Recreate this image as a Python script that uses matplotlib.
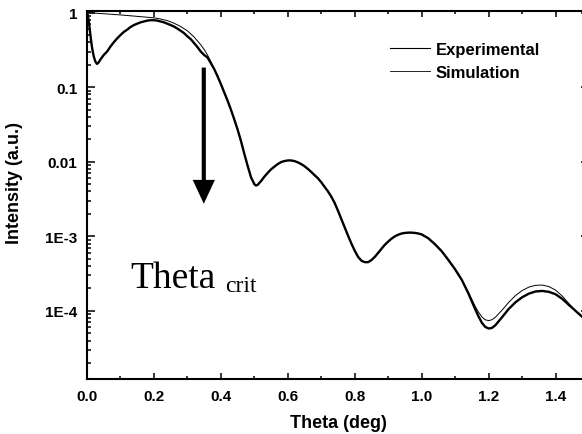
import matplotlib
matplotlib.use("Agg")
import matplotlib.pyplot as plt
from matplotlib.lines import Line2D
from matplotlib.ticker import FixedLocator, FixedFormatter, LogLocator, NullFormatter

# low-angle part of the simulation (thin line)
sim_head_theta = [0.00, 0.05, 0.10, 0.15, 0.20, 0.22, 0.24, 0.26, 0.28, 0.30,
                  0.32, 0.34, 0.35, 0.36, 0.37]
sim_head_int = [1.0, 0.965, 0.93, 0.89, 0.85, 0.82, 0.78, 0.72, 0.65, 0.57,
                0.47, 0.37, 0.32, 0.27, 0.22]

# low-angle part of the measurement (thick line)
exp_head_theta = [0.000, 0.003, 0.006, 0.009, 0.012, 0.015, 0.020, 0.025, 0.030,
                  0.035, 0.040, 0.05, 0.06, 0.07, 0.08, 0.09, 0.10, 0.11, 0.12,
                  0.13, 0.14, 0.15, 0.16, 0.17, 0.18, 0.19, 0.20, 0.21, 0.22,
                  0.23, 0.24, 0.25, 0.26, 0.27, 0.28, 0.29, 0.30, 0.31, 0.32,
                  0.33, 0.34, 0.35, 0.36, 0.37]
exp_head_int = [1.0, 0.9, 0.72, 0.55, 0.43, 0.34, 0.26, 0.22, 0.205,
                0.215, 0.235, 0.27, 0.30, 0.35, 0.40, 0.45, 0.50, 0.55, 0.59,
                0.64, 0.68, 0.71, 0.74, 0.76, 0.78, 0.79, 0.79, 0.78, 0.76,
                0.74, 0.71, 0.68, 0.65, 0.61, 0.57, 0.53, 0.48, 0.44, 0.39,
                0.345, 0.30, 0.27, 0.25, 0.21]

# region where both curves coincide
mid_theta = [0.38, 0.39, 0.40, 0.41, 0.42, 0.43, 0.44, 0.45, 0.46, 0.47, 0.48,
             0.49, 0.50, 0.505, 0.51, 0.52, 0.53, 0.54, 0.55, 0.56, 0.57, 0.58,
             0.59, 0.60, 0.61, 0.62, 0.63, 0.64, 0.65, 0.66, 0.67, 0.68, 0.69,
             0.70, 0.71, 0.72, 0.73, 0.74, 0.75, 0.76, 0.77, 0.78, 0.79, 0.80,
             0.81, 0.82, 0.83, 0.84, 0.85, 0.86, 0.87, 0.88, 0.89, 0.90, 0.91,
             0.92, 0.93, 0.94, 0.95, 0.96, 0.97, 0.98, 0.99, 1.00, 1.02, 1.04,
             1.06, 1.08, 1.10, 1.12]
mid_int = [0.175, 0.14, 0.11, 0.085, 0.066, 0.05, 0.037, 0.027, 0.019, 0.0128,
           0.0088, 0.0062, 0.0050, 0.0048, 0.0049, 0.0055, 0.0063, 0.0071, 0.0079,
           0.0086, 0.0093, 0.0099, 0.0102, 0.0104, 0.0104, 0.0102, 0.0098, 0.0093,
           0.0087, 0.0080, 0.0073, 0.0066, 0.0060, 0.0053, 0.0046, 0.0040, 0.0034,
           0.0028, 0.0022, 0.0017, 0.00132, 0.00102, 0.00080, 0.00064, 0.00053,
           0.00047, 0.00045, 0.00045, 0.00048, 0.00053, 0.00060, 0.00068, 0.00077,
           0.00085, 0.00093, 0.00100, 0.00105, 0.00109, 0.00111, 0.00112, 0.00112,
           0.00111, 0.00109, 0.00106, 0.00094, 0.00078, 0.00063, 0.00048, 0.00036,
           0.00026]

# high-angle tails
sim_tail_theta = [1.14, 1.16, 1.17, 1.18, 1.19, 1.20, 1.21, 1.22, 1.24, 1.26, 1.28,
                  1.30, 1.32, 1.34, 1.36, 1.38, 1.40, 1.42, 1.44, 1.46, 1.48, 1.50]
sim_tail_int = [0.000175, 0.000115, 0.000096, 0.000083, 0.000076, 0.000074,
                0.000076, 0.000082, 0.000102, 0.000130, 0.000160, 0.000187,
                0.000208, 0.000220, 0.000222, 0.000212, 0.000190, 0.000158,
                0.000125, 0.000100, 0.000082, 0.000068]
exp_tail_theta = sim_tail_theta
exp_tail_int = [0.000170, 0.000105, 0.000084, 0.000069, 0.000061, 0.000058,
                0.000059, 0.000064, 0.000082, 0.000106, 0.000130, 0.000152,
                0.000170, 0.000182, 0.000185, 0.000180, 0.000167, 0.000145,
                0.000120, 0.000100, 0.000083, 0.000068]

sim_theta = sim_head_theta + mid_theta + sim_tail_theta
sim_int = sim_head_int + mid_int + sim_tail_int
exp_theta = exp_head_theta + mid_theta + exp_tail_theta
exp_int = exp_head_int + mid_int + exp_tail_int

ytick_vals = [1, 0.1, 0.01, 1e-3, 1e-4]
ytick_labels = ['1', '0.1', '0.01', '1E-3', '1E-4']
xtick_vals = [0.0, 0.2, 0.4, 0.6, 0.8, 1.0, 1.2, 1.4]

plt.rcParams['font.family'] = ['Liberation Sans', 'DejaVu Sans']
plt.rcParams['font.weight'] = 'bold'

fig = plt.figure(figsize=(5.82, 4.35), dpi=100)
# right spine sits just outside the picture, as in the cropped original
ax = fig.add_axes([87/582, 1 - 380/435, (589 - 87)/582, (380 - 12)/435])

ax.plot(exp_theta, exp_int, color='black', lw=1.7)
ax.plot(sim_theta, sim_int, color='black', lw=0.7)

ax.set_yscale('log')
ax.set_xlim(0, 1.5)
ax.set_ylim(1.22e-5, 1.05)

ax.xaxis.set_major_locator(FixedLocator(xtick_vals))
ax.xaxis.set_minor_locator(FixedLocator([0.1, 0.3, 0.5, 0.7, 0.9, 1.1, 1.3, 1.5]))
ax.set_xticklabels(['%.1f' % v for v in xtick_vals])
ax.yaxis.set_major_locator(FixedLocator(ytick_vals))
ax.yaxis.set_major_formatter(FixedFormatter(ytick_labels))
ax.yaxis.set_minor_locator(LogLocator(base=10, subs=range(2, 10)))
ax.yaxis.set_minor_formatter(NullFormatter())

ax.tick_params(which='both', direction='in', top=True, right=True, width=1.1)
ax.tick_params(axis='x', which='major', length=4.5, pad=7, labelsize=11)
ax.tick_params(axis='x', which='minor', length=2.5)
ax.tick_params(axis='y', which='major', length=6, pad=7, labelsize=11)
ax.tick_params(axis='y', which='minor', length=3)
for s in ax.spines.values():
    s.set_linewidth(1.5)

ax.set_xlabel('Theta (deg)', fontsize=13, fontweight='bold', labelpad=8)
ax.set_ylabel('Intensity (a.u.)', fontsize=13, fontweight='bold')
ax.yaxis.set_label_coords(-0.1275, 0.534)

handles = [Line2D([], [], color='black', lw=0.8), Line2D([], [], color='black', lw=0.6)]
ax.legend(handles, ['Experimental', 'Simulation'], loc='upper left',
          bbox_to_anchor=(390/582, 1 - 43/435), bbox_transform=fig.transFigure,
          frameon=False, handlelength=2.4, handletextpad=0.35,
          borderpad=0, borderaxespad=0, labelspacing=0.45,
          prop={'weight': 'bold', 'size': 12})

ax.annotate('', xy=(0.349, 0.00273), xytext=(0.349, 0.183),
            arrowprops=dict(arrowstyle='simple,head_length=0.86,head_width=0.8,tail_width=0.15',
                            mutation_scale=20, fc='black', ec='none', lw=0,
                            shrinkA=0, shrinkB=0))

fig.text(130/582, 1 - 288/435, 'Theta', fontsize=27, family='Liberation Serif',
         fontweight='normal', va='baseline', ha='left')
fig.text(225/582, 1 - 292/435, 'crit', fontsize=17, family='Liberation Serif',
         fontweight='normal', va='baseline', ha='left')

fig.savefig('out.png', dpi=100)
